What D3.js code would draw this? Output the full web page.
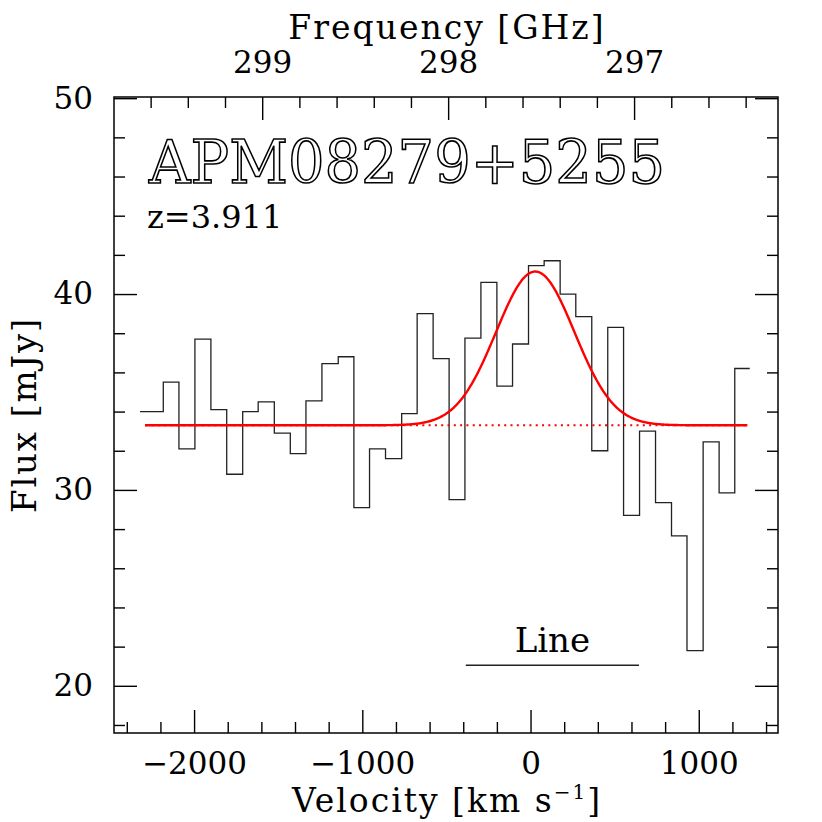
<!DOCTYPE html>
<html>
<head>
<meta charset="utf-8">
<script src="https://cdn.jsdelivr.net/npm/d3@7"></script>
<style>
  html, body { margin: 0; padding: 0; background: #fff; }
  svg text { font-family: "DejaVu Serif", serif; fill: #000; }
</style>
</head>
<body>
<div id="chart"></div>
<script>
// bin edges of the spectrum (km/s)
const velocityEdges = [-2321, -2183, -2090, -1995, -1900, -1806, -1711, -1619, -1523, -1428,
    -1335, -1240, -1143, -1050, -957, -862, -766, -674, -579, -484,
    -390, -295, -200, -107, -12, 81, 176, 269, 364, 459,
    553, 648, 743, 838, 930, 1026, 1121, 1214, 1303];
// flux of each bin (mJy)
const flux = [34.0, 35.5, 32.1, 37.7, 34.1, 30.8, 34.0, 34.5, 32.9, 31.85,
    34.55, 36.45, 36.8, 29.1, 32.1, 31.6, 33.9, 39.0, 36.7, 29.5,
    37.75, 40.6, 35.3, 37.45, 41.45, 41.7, 40.0, 38.85, 32.0, 38.3,
    28.7, 33.0, 29.35, 27.65, 21.8, 32.45, 29.85, 36.2];

// gaussian fit: continuum, peak amplitude, centre, sigma (km/s)
const fitContinuum = 33.3, fitAmplitude = 7.85, fitCenter = 28, fitSigma = 233;
const fitRange = [-2291, 1293];

const velocityTicks = [-2000, -1000, 0, 1000];
const fluxTicks = [20, 30, 40, 50];
const freqTicks = [297, 298, 299];

const lineBar = { from: -385, to: 645, level: 21.05, label: 'Line' };

const width = 822, height = 822;
const margin = { top: 97, right: 44, bottom: 89, left: 114 };

const svg = d3.select('#chart').append('svg')
    .attr('width', width)
    .attr('height', height);

const xScale = d3.scaleLinear()
    .domain([-2476, 1471])
    .range([margin.left, width - margin.right]);

const yScale = d3.scaleLinear()
    .domain([17.59, 50.06])
    .range([height - margin.bottom, margin.top]);

// top axis in observed frequency (GHz)
const fScale = d3.scaleLinear()
    .domain([299.797, 296.226])
    .range([margin.left, width - margin.right]);

const axisColor = '#000';

function drawAxis(axisFn, scale, values, size, translate, withLabels, padding) {
    const ax = axisFn(scale)
        .tickValues(values)
        .tickSize(-size)
        .tickPadding(padding || 0)
        .tickFormat(withLabels ? d3.format('d') : '');
    const g = svg.append('g')
        .attr('transform', translate)
        .call(ax);
    g.select('.domain').remove();
    g.selectAll('line').attr('stroke', axisColor).attr('stroke-width', 1.4);
    g.selectAll('text')
        .style('font-family', '"DejaVu Serif", serif')
        .style('font-size', '31px')
        .attr('fill', '#000');
    return g;
}

function inside(scale) {
    const [a, b] = d3.extent(scale.domain());
    return v => v > a && v < b;
}

const minorV = d3.range(-2400, 1401, 200).filter(v => v % 1000 !== 0).filter(inside(xScale));
const minorF = d3.range(2962, 2999, 2).map(d => d / 10)
    .filter(f => Math.abs(f - Math.round(f)) > 1e-6).filter(inside(fScale));
const minorY = d3.range(18, 50, 2).filter(v => v % 10 !== 0);

const bottomY = height - margin.bottom;
const rightX = width - margin.right;

// bottom
drawAxis(d3.axisBottom, xScale, minorV, 11, `translate(0,${bottomY})`, false);
drawAxis(d3.axisBottom, xScale, velocityTicks, 23, `translate(0,${bottomY})`, true, 19);
// top
drawAxis(d3.axisTop, fScale, minorF, 11, `translate(0,${margin.top})`, false);
drawAxis(d3.axisTop, fScale, freqTicks, 23, `translate(0,${margin.top})`, true, 24);
// left
drawAxis(d3.axisLeft, yScale, minorY, 11, `translate(${margin.left},0)`, false);
drawAxis(d3.axisLeft, yScale, fluxTicks, 23, `translate(${margin.left},0)`, true, 21);
// right
drawAxis(d3.axisRight, yScale, minorY, 11, `translate(${rightX},0)`, false);
drawAxis(d3.axisRight, yScale, fluxTicks, 23, `translate(${rightX},0)`, false);

// frame
svg.append('rect')
    .attr('x', margin.left)
    .attr('y', margin.top)
    .attr('width', rightX - margin.left)
    .attr('height', bottomY - margin.top)
    .attr('fill', 'none')
    .attr('stroke', axisColor)
    .attr('stroke-width', 1.5);

// histogram
const stepData = flux.map((f, i) => ({ v: velocityEdges[i], f: f }));
stepData.push({ v: velocityEdges[velocityEdges.length - 1], f: flux[flux.length - 1] });

const stepLine = d3.line()
    .x(d => xScale(d.v))
    .y(d => yScale(d.f))
    .curve(d3.curveStepAfter);

svg.append('path')
    .datum(stepData)
    .attr('fill', 'none')
    .attr('stroke', '#222')
    .attr('stroke-width', 1.3)
    .attr('d', stepLine);

// continuum (dotted)
svg.append('line')
    .attr('x1', xScale(fitRange[0]))
    .attr('x2', xScale(fitRange[1]))
    .attr('y1', yScale(fitContinuum))
    .attr('y2', yScale(fitContinuum))
    .attr('stroke', '#ff0000')
    .attr('stroke-width', 2)
    .attr('stroke-dasharray', '2,4.3');

// gaussian model
const model = d3.range(fitRange[0], fitRange[1] + 1, 5).map(v => ({
    v: v,
    f: fitContinuum + fitAmplitude * Math.exp(-Math.pow(v - fitCenter, 2) / (2 * fitSigma * fitSigma))
}));
svg.append('path')
    .datum(model)
    .attr('fill', 'none')
    .attr('stroke', '#ff0000')
    .attr('stroke-width', 2.4)
    .attr('d', d3.line().x(d => xScale(d.v)).y(d => yScale(d.f)));

// line window marker
svg.append('line')
    .attr('x1', xScale(lineBar.from))
    .attr('x2', xScale(lineBar.to))
    .attr('y1', yScale(lineBar.level))
    .attr('y2', yScale(lineBar.level))
    .attr('stroke', '#222')
    .attr('stroke-width', 1.4);

svg.append('text')
    .attr('x', xScale((lineBar.from + lineBar.to) / 2))
    .attr('y', yScale(lineBar.level) - 13)
    .attr('text-anchor', 'middle')
    .style('font-size', '34px')
    .text(lineBar.label);

// labels
svg.append('text')
    .attr('x', 149)
    .attr('y', 183)
    .attr('textLength', 516)
    .attr('lengthAdjust', 'spacingAndGlyphs')
    .style('font-size', '60px')
    .style('fill', '#fff')
    .style('stroke', '#000')
    .style('stroke-width', '1.6px')
    .text('APM08279+5255');

svg.append('text')
    .attr('x', 147)
    .attr('y', 228)
    .style('font-size', '32px')
    .text('z=3.911');

svg.append('text')
    .attr('x', 447)
    .attr('y', 39)
    .attr('text-anchor', 'middle')
    .style('font-size', '33px')
    .style('letter-spacing', '2px')
    .text('Frequency [GHz]');

const xLabel = svg.append('text')
    .attr('x', 447)
    .attr('y', 812)
    .attr('text-anchor', 'middle')
    .style('font-size', '33px')
    .style('letter-spacing', '2px');
xLabel.append('tspan').text('Velocity [km s');
xLabel.append('tspan').attr('dy', -13).style('font-size', '20px').text('−1');
xLabel.append('tspan').attr('dy', 13).text(']');

svg.append('text')
    .attr('transform', 'translate(36,415) rotate(-90)')
    .attr('text-anchor', 'middle')
    .style('font-size', '34px')
    .style('letter-spacing', '1.8px')
    .text('Flux [mJy]');
</script>
</body>
</html>
